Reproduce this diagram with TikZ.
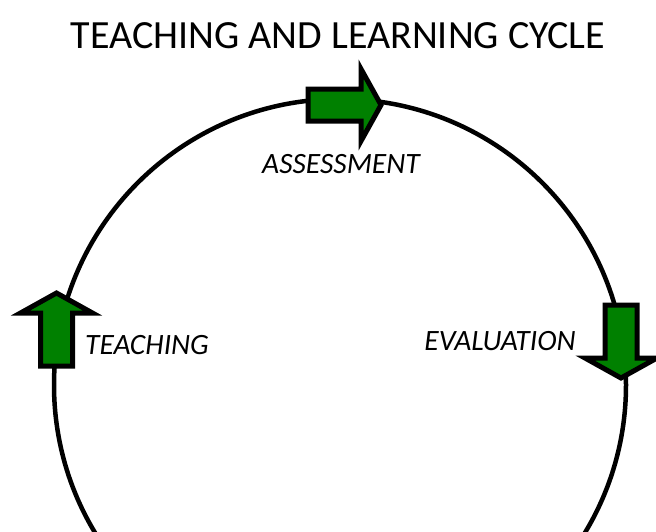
\documentclass[tikz,border=0pt]{standalone}
\usepackage{fontspec}
\setmainfont{Carlito}
\usepackage{tikz}
\usetikzlibrary{positioning}
\definecolor{arrowgreen}{RGB}{0,128,0}

\begin{document}
\begin{tikzpicture}[
        x = 1pt, y = -1pt,
        every node/.style = {inner sep = 0pt},
        cycleline/.style = {draw, line width = 4.5pt},
        label/.style = {font = \fontsize{29.5}{34}\selectfont\itshape},
        pics/greenarrow/.style = {code = {
            \draw[fill = arrowgreen, line width = 5pt, line join = miter]
                (-53,-16) -- (0,-16) -- (0,-36) -- (20,0) -- (0,36)
                -- (0,16) -- (-53,16) -- cycle;
        }}
        ]
        \clip (0,0) rectangle (656,531);
        \node[font = \fontsize{40}{46}\selectfont] (title) at (338,36) {TEACHING AND LEARNING CYCLE};
        \node[cycleline, circle, minimum size = 572pt] (cycle) at (340,385) {};
        \pic (assessarrow) at (361,105) {greenarrow};
        \pic[rotate = -90] (evalarrow) at (621,358) {greenarrow};
        \pic[rotate = 90] (teacharrow) at (56.5,313) {greenarrow};
        \node[label] (assess) at (341,164) {ASSESSMENT};
        \node[label] (teach) at (147,345) {TEACHING};
        \node[label] (eval) at (500,341) {EVALUATION};
\end{tikzpicture}
\end{document}
